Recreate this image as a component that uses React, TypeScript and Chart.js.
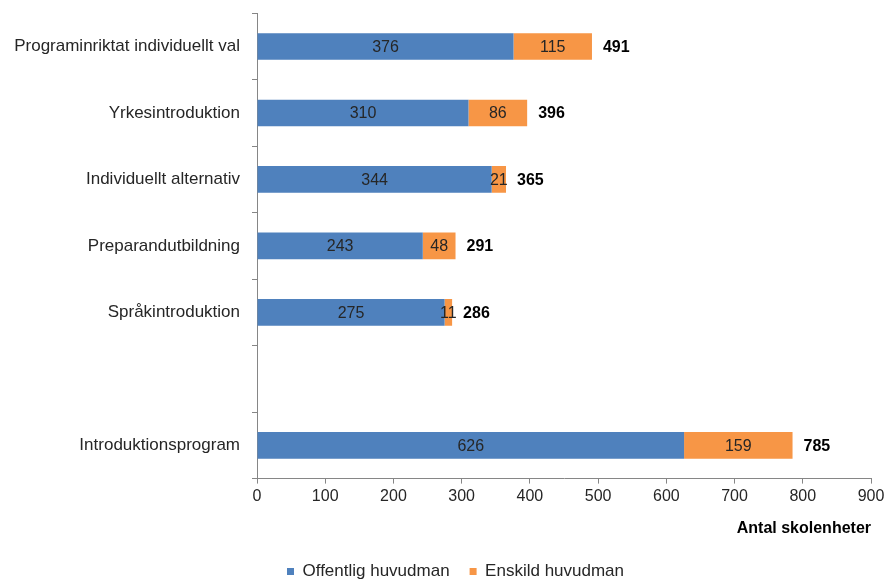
import React, { useEffect, useRef } from "react";
import { Chart, registerables } from "chart.js";

Chart.register(...registerables);

const categories = [
  "Programinriktat individuellt val",
  "Yrkesintroduktion",
  "Individuellt alternativ",
  "Preparandutbildning",
  "Språkintroduktion",
  "",
  "Introduktionsprogram",
];
const offentlig: (number | null)[] = [376, 310, 344, 243, 275, null, 626];
const enskild: (number | null)[] = [115, 86, 21, 48, 11, null, 159];
const totals: (number | null)[] = [491, 396, 365, 291, 286, null, 785];
const xTicks = [0, 100, 200, 300, 400, 500, 600, 700, 800, 900];

const FONT = "'Liberation Sans', Arial, sans-serif";
const CANVAS_W = 889;
const CANVAS_H = 599;
const SHIFT = 9;
const LEGEND_SHIFT = 20;

const legendShiftPlugin = {
  id: "legendShift",
  afterLayout(chart: any) {
    if (chart.legend) {
      chart.legend.left += LEGEND_SHIFT;
      chart.legend.right += LEGEND_SHIFT;
    }
  },
};

const labelPlugin = {
  id: "barLabels",
  afterDatasetsDraw(chart: any) {
    const ctx = chart.ctx;
    ctx.save();
    ctx.textBaseline = "middle";
    chart.data.datasets.forEach((ds: any, di: number) => {
      const meta = chart.getDatasetMeta(di);
      meta.data.forEach((el: any, i: number) => {
        const v = ds.data[i];
        if (v == null) return;
        const { x, y, base } = el.getProps(["x", "y", "base"], true);
        ctx.font = `16px ${FONT}`;
        ctx.fillStyle = "#262626";
        ctx.textAlign = "center";
        ctx.fillText(String(v), (x + base) / 2, y + 1);
      });
    });
    const lastMeta = chart.getDatasetMeta(chart.data.datasets.length - 1);
    lastMeta.data.forEach((el: any, i: number) => {
      const t = totals[i];
      if (t == null) return;
      const { x, y } = el.getProps(["x", "y"], true);
      ctx.font = `bold 16px ${FONT}`;
      ctx.fillStyle = "#000";
      ctx.textAlign = "left";
      ctx.fillText(String(t), x + 11, y + 1);
    });
    ctx.restore();
  },
};

export default function App() {
  const ref = useRef<HTMLCanvasElement>(null);
  useEffect(() => {
    document.body.style.margin = "0";
    const chart = new Chart(ref.current!, {
      type: "bar",
      data: {
        labels: categories,
        datasets: [
          {
            label: "Offentlig huvudman",
            data: offentlig,
            backgroundColor: "#4F81BD",
            categoryPercentage: 1,
            barPercentage: 0.4,
          },
          {
            label: "Enskild huvudman",
            data: enskild,
            backgroundColor: "#F79646",
            categoryPercentage: 1,
            barPercentage: 0.4,
          },
        ],
      },
      options: {
        indexAxis: "y",
        animation: false,
        responsive: false,
        layout: { padding: { top: 0, right: 18, left: 0, bottom: 0 } },
        scales: {
          x: {
            stacked: true,
            min: 0,
            max: 900,
            afterBuildTicks: (axis: any) => {
              axis.ticks = xTicks.map((v) => ({ value: v }));
            },
            grid: {
              drawOnChartArea: false,
              drawTicks: true,
              tickLength: 5,
              color: "#868686",
            },
            border: { color: "#868686" },
            ticks: {
              color: "#262626",
              font: { family: FONT, size: 16 },
              padding: 3,
              maxRotation: 0,
            },
            title: {
              display: true,
              text: "Antal skolenheter",
              align: "end",
              color: "#000",
              font: { family: FONT, size: 16, weight: "bold" },
              padding: { top: 10, bottom: 5 },
            },
          },
          y: {
            stacked: true,
            grid: {
              offset: true,
              drawOnChartArea: false,
              drawTicks: true,
              tickLength: 5,
              color: "#868686",
            },
            border: { color: "#868686" },
            ticks: {
              color: "#262626",
              font: { family: FONT, size: 17 },
              padding: 12,
            },
            afterFit: (axis: any) => {
              axis.width = 257;
            },
          },
        },
        plugins: {
          legend: {
            position: "bottom",
            labels: {
              boxWidth: 7,
              boxHeight: 7,
              color: "#262626",
              font: { family: FONT, size: 17 },
              padding: 20,
            },
          },
          tooltip: { enabled: false },
        },
      },
      plugins: [labelPlugin, legendShiftPlugin],
    } as any);
    return () => chart.destroy();
  }, []);
  return (
    <div
      style={{
        width: 889,
        height: 580,
        background: "#fff",
        overflow: "hidden",
        position: "relative",
      }}
    >
      <canvas
        ref={ref}
        width={CANVAS_W}
        height={CANVAS_H}
        style={{ position: "absolute", left: 0, top: -SHIFT }}
      />
    </div>
  );
}
